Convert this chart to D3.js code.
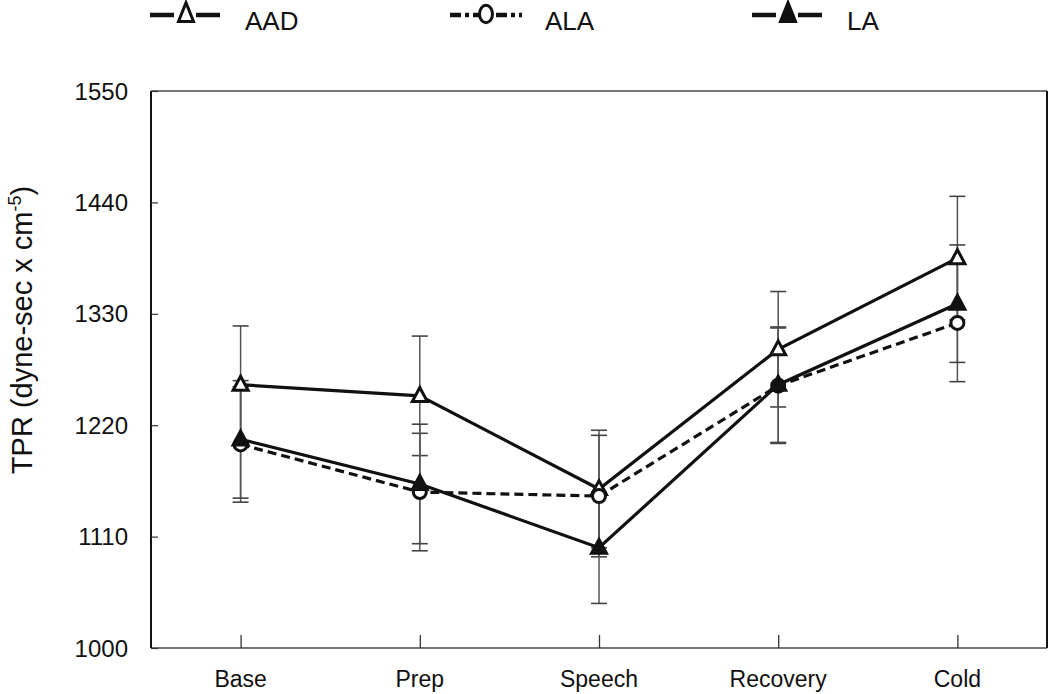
<!DOCTYPE html>
<html><head><meta charset="utf-8">
<script src="https://cdn.jsdelivr.net/npm/d3@7"></script>
<style>body{margin:0;background:#fff}svg{display:block}text{font-family:"Liberation Sans",Arial,sans-serif;fill:#111}</style>
</head><body><svg id="c" width="1050" height="694"></svg>
<script>
const categories = ["Base","Prep","Speech","Recovery","Cold"];
const yTicks = [1000,1110,1220,1330,1440,1550];
const seriesNames = ["AAD","ALA","LA"];
const aadMean = [1260,1249,1157,1295,1385];
const aadErr  = [58,59,58,57,61];
const alaMean = [1201,1154,1150,1259,1321];
const alaErr  = [57,58,60,57,58];
const laMean  = [1206,1162,1099,1260,1340];
const laErr   = [58,59,55,57,58];

const series = [
  {name:seriesNames[0], mean:aadMean, err:aadErr, dash:null, marker:"triOpen"},
  {name:seriesNames[1], mean:alaMean, err:alaErr, dash:"9,5", marker:"circle"},
  {name:seriesNames[2], mean:laMean,  err:laErr,  dash:null, marker:"triFilled"}
];

const svg = d3.select("#c");
const L=151, R=1047, T=91, B=648;
const x = d3.scalePoint().domain(categories).range([L,R]).padding(0.5);
const y = d3.scaleLinear().domain([1000,1550]).range([B,T]);

// frame
svg.append("line").attr("x1",L).attr("x2",R).attr("y1",T).attr("y2",T).attr("stroke","#777").attr("stroke-width",2);
svg.append("line").attr("x1",L).attr("x2",R).attr("y1",B).attr("y2",B).attr("stroke","#777").attr("stroke-width",2);
svg.append("line").attr("x1",L).attr("x2",L).attr("y1",T).attr("y2",B).attr("stroke","#111").attr("stroke-width",2);
svg.append("line").attr("x1",R).attr("x2",R).attr("y1",T).attr("y2",B).attr("stroke","#111").attr("stroke-width",2);

// y axis
const ya = svg.append("g").attr("transform",`translate(${L},0)`)
  .call(d3.axisRight(y).tickValues(yTicks).tickSize(7).tickFormat(""));
ya.select(".domain").remove();
ya.selectAll("line").attr("stroke","#333").attr("stroke-width",1.2);
svg.selectAll(".ylab").data(yTicks).join("text").attr("class","ylab")
  .attr("x",128).attr("y",d=>y(d)).attr("dy","0.36em").attr("text-anchor","end")
  .attr("font-size",24).text(d=>d);

// x axis
const xa = svg.append("g").attr("transform",`translate(0,${B})`)
  .call(d3.axisTop(x).tickSize(13).tickFormat(""));
xa.select(".domain").remove();
xa.selectAll("line").attr("stroke","#333").attr("stroke-width",1.3);
svg.selectAll(".xlab").data(categories).join("text").attr("class","xlab")
  .attr("x",d=>x(d)).attr("y",687).attr("text-anchor","middle").attr("font-size",23).text(d=>d);

// y title
const yt = svg.append("text").attr("transform","translate(32,330) rotate(-90)")
  .attr("text-anchor","middle").attr("font-size",29);
yt.append("tspan").text("TPR (dyne-sec x cm");
yt.append("tspan").attr("font-size",18).attr("dy",-11).text("-5");
yt.append("tspan").attr("dy",11).text(")");

// error bars
series.forEach(s=>{
  const g = svg.append("g");
  categories.forEach((c,i)=>{
    const cx=x(c), hi=y(s.mean[i]+s.err[i]), lo=y(s.mean[i]-s.err[i]);
    g.append("line").attr("x1",cx).attr("x2",cx).attr("y1",hi).attr("y2",lo).attr("stroke","#555").attr("stroke-width",1.5);
    [hi,lo].forEach(yy=>g.append("line").attr("x1",cx-8).attr("x2",cx+8).attr("y1",yy).attr("y2",yy).attr("stroke","#444").attr("stroke-width",1.6));
  });
});

// lines
const line = d3.line().x((d,i)=>x(categories[i])).y(d=>y(d));
series.forEach(s=>{
  svg.append("path").attr("d",line(s.mean)).attr("fill","none").attr("stroke","#111")
    .attr("stroke-width",3.2).attr("stroke-dasharray",s.dash);
});

function marker(g, type, cx, cy, k){
  k = k || 1;
  if(type==="circle"){
    g.append("ellipse").attr("cx",cx).attr("cy",cy).attr("rx",6.5).attr("ry",6.5*k).attr("fill","#fff").attr("stroke","#111").attr("stroke-width",3);
  } else {
    const h=14*k, w=15;
    const p = `M${cx},${cy-h*0.6}L${cx+w/2},${cy+h*0.4}L${cx-w/2},${cy+h*0.4}Z`;
    g.append("path").attr("d",p).attr("fill",type==="triFilled"?"#111":"#fff").attr("stroke","#111").attr("stroke-width",3).attr("stroke-linejoin","miter");
  }
}
series.forEach(s=>{
  const g=svg.append("g");
  s.mean.forEach((v,i)=>marker(g,s.marker,x(categories[i]),y(v)));
});

// legend
const legX = [150, 450, 752];
series.forEach((s,i)=>{
  const g = svg.append("g");
  const x0=legX[i], yy=15, w=72;
  g.append("line").attr("x1",x0).attr("x2",x0+w).attr("y1",yy).attr("y2",yy).attr("stroke","#111")
    .attr("stroke-width",4.5).attr("stroke-dasharray", s.dash ? "11,4,4,4" : "24,22");
  marker(g, s.marker, x0+w/2, yy-1, 1.35);
  g.append("text").attr("x",x0+95).attr("y",30).attr("font-size",26).text(s.name);
});
</script></body></html>
